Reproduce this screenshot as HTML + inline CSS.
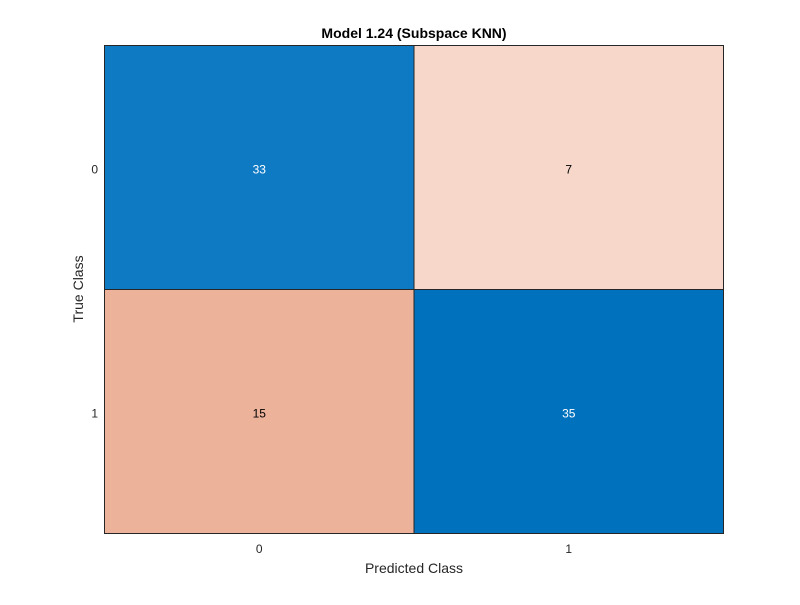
<!DOCTYPE html>
<html><head><meta charset="utf-8"><style>
html,body{margin:0;padding:0;background:#fff;}
svg text{font-family:"Liberation Sans",Arial,sans-serif;}
</style></head><body>
<svg width="800" height="600" xmlns="http://www.w3.org/2000/svg">
<rect width="800" height="600" fill="#fff"/>
<text x="414" y="38" text-anchor="middle" font-size="14" font-weight="bold" fill="#000">Model 1.24 (Subspace KNN)</text>
<g id="cells"></g>
<rect x="104.5" y="45.5" width="619" height="488" fill="none" stroke="#262626" stroke-width="1"/>
<g id="ticks"></g>
<text x="414" y="573" text-anchor="middle" font-size="14" fill="#262626">Predicted Class</text>
<text transform="translate(83,289) rotate(-90)" text-anchor="middle" font-size="14" fill="#262626">True Class</text>
</svg>
<script>
const classes = ["0","1"];
const counts = [[33,7],[15,35]];
const cellColors = [["#0F7AC4","#F6D7CA"],["#EDB29A","#0072BD"]];
const textColors = [["#fff","#000"],["#000","#fff"]];
const L=104.5,T=45.5,W=619,H=488;
const n=classes.length, cw=W/n, ch=H/n;
const ns="http://www.w3.org/2000/svg";
const cells=document.getElementById('cells'), ticks=document.getElementById('ticks');
for(let r=0;r<n;r++){for(let c=0;c<n;c++){
  const rect=document.createElementNS(ns,'rect');
  rect.setAttribute('x',L+c*cw);rect.setAttribute('y',T+r*ch);
  rect.setAttribute('width',cw);rect.setAttribute('height',ch);
  rect.setAttribute('fill',cellColors[r][c]);rect.setAttribute('stroke','#262626');rect.setAttribute('stroke-width','1');
  
  
  cells.appendChild(rect);
  const t=document.createElementNS(ns,'text');
  t.setAttribute('x',L+(c+0.5)*cw);t.setAttribute('y',T+(r+0.5)*ch+6);
  t.setAttribute('text-anchor','middle');t.setAttribute('font-size','12');t.setAttribute('fill',textColors[r][c]);
  t.textContent=counts[r][c];
  
  
  cells.appendChild(t);
}}
for(let i=0;i<n;i++){
  const tx=document.createElementNS(ns,'text');
  tx.setAttribute('x',L+(i+0.5)*cw);tx.setAttribute('y',553);
  tx.setAttribute('text-anchor','middle');tx.setAttribute('font-size','12');tx.setAttribute('fill','#262626');
  tx.textContent=classes[i];
  
  
  ticks.appendChild(tx);
  const ty=document.createElementNS(ns,'text');
  ty.setAttribute('x',98);ty.setAttribute('y',T+(i+0.5)*ch+6);
  ty.setAttribute('text-anchor','end');ty.setAttribute('font-size','12');ty.setAttribute('fill','#262626');
  ty.textContent=classes[i];
  
  
  ticks.appendChild(ty);
}
</script>
</body></html>
